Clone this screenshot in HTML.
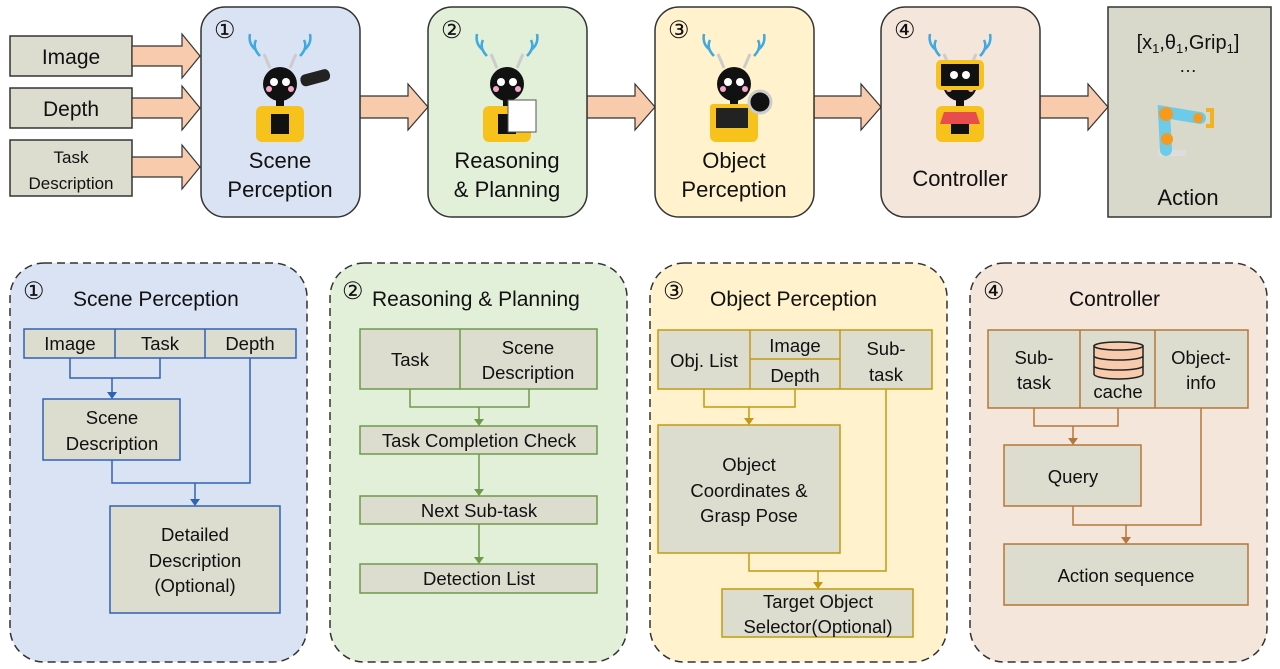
<!DOCTYPE html>
<html><head><meta charset="utf-8"><style>
html,body{margin:0;padding:0;background:#fff}
svg{display:block}
text{font-family:"Liberation Sans",sans-serif;fill:#111}
</style></head><body>
<svg width="1280" height="669" viewBox="0 0 1280 669" xmlns="http://www.w3.org/2000/svg">
<defs>
<g id="robot">
  <path d="M-20,-42 q-8,-8 -4,-16 M-24,-48 q-8,-6 -6,-16" stroke="#3fa9e0" stroke-width="2.5" fill="none"/>
  <path d="M20,-42 q8,-8 4,-16 M24,-48 q8,-6 6,-16" stroke="#3fa9e0" stroke-width="2.5" fill="none"/>
  <line x1="-10" y1="-30" x2="-16" y2="-44" stroke="#ccc" stroke-width="3"/>
  <line x1="10" y1="-30" x2="16" y2="-44" stroke="#ccc" stroke-width="3"/>
  <circle cx="0" cy="-14" r="17" fill="#111"/>
  <circle cx="-6" cy="-16" r="4" fill="#fff"/><circle cx="6" cy="-16" r="4" fill="#fff"/>
  <circle cx="-11" cy="-9" r="3" fill="#f6a8c8"/><circle cx="11" cy="-9" r="3" fill="#f6a8c8"/>
  <rect x="-4" y="2" width="8" height="6" fill="#111"/>
  <rect x="-24" y="8" width="48" height="36" rx="6" fill="#f8c21c"/>
  <rect x="-9" y="16" width="18" height="20" fill="#111"/>
</g>
</defs>

<!-- top inputs -->
<g stroke="#333" stroke-width="1.5" fill="#dcdccf">
  <rect x="10" y="36" width="122" height="40"/>
  <rect x="10" y="88" width="122" height="40"/>
  <rect x="10" y="140" width="122" height="56"/>
</g>
<text x="71" y="64" font-size="21" text-anchor="middle">Image</text>
<text x="71" y="116" font-size="21" text-anchor="middle">Depth</text>
<text x="71" y="163" font-size="17" text-anchor="middle">Task</text>
<text x="71" y="189" font-size="17" text-anchor="middle">Description</text>

<!-- arrows -->
<g fill="#f8cbad" stroke="#333" stroke-width="1.2">
  <path d="M132,46 H182 V34 L200,56 L182,78 V66 H132 Z"/>
  <path d="M132,98 H182 V86 L200,108 L182,130 V118 H132 Z"/>
  <path d="M132,157 H182 V145 L200,167 L182,189 V177 H132 Z"/>
  <path d="M360,96 H408 V84 L428,107 L408,130 V118 H360 Z"/>
  <path d="M587,96 H635 V84 L655,107 L635,130 V118 H587 Z"/>
  <path d="M814,96 H861 V84 L881,107 L861,130 V118 H814 Z"/>
  <path d="M1040,96 H1088 V84 L1108,107 L1088,130 V118 H1040 Z"/>
</g>

<!-- top boxes -->
<g stroke="#333" stroke-width="1.5">
  <rect x="201" y="7" width="159" height="210" rx="24" fill="#dae3f3"/>
  <rect x="428" y="7" width="159" height="210" rx="24" fill="#e2efd9"/>
  <rect x="655" y="7" width="159" height="210" rx="24" fill="#fff2cc"/>
  <rect x="881" y="7" width="159" height="210" rx="24" fill="#f4e6da"/>
  <rect x="1108" y="7" width="163" height="210" fill="#d9d9cb"/>
</g>
<g font-size="24">
  <text x="214" y="38">①</text><text x="441" y="38">②</text><text x="668" y="38">③</text><text x="894" y="38">④</text>
</g>
<use href="#robot" x="280" y="98"/>
<rect x="300" y="72" width="30" height="12" rx="5" fill="#222" transform="rotate(-15 314 77)"/>
<use href="#robot" x="507" y="98"/>
<rect x="508" y="100" width="28" height="32" fill="#fff" stroke="#555"/>
<use href="#robot" x="734" y="98"/>
<rect x="710" y="104" width="44" height="30" rx="3" fill="#f8c21c"/><rect x="716" y="108" width="32" height="20" fill="#222"/>
<circle cx="760" cy="102" r="11" fill="#111" stroke="#ccc" stroke-width="3"/>
<use href="#robot" x="960" y="98"/>
<rect x="936" y="60" width="48" height="30" rx="5" fill="#f8c21c"/><rect x="941" y="64" width="38" height="22" fill="#111"/>
<circle cx="954" cy="75" r="4" fill="#fff"/><circle cx="966" cy="75" r="4" fill="#fff"/>
<path d="M944,112 h32 l4,12 h-40 z" fill="#e84c4c"/>

<g font-size="22" text-anchor="middle">
  <text x="280" y="168">Scene</text><text x="280" y="197">Perception</text>
  <text x="507" y="168">Reasoning</text><text x="507" y="197">&amp; Planning</text>
  <text x="734" y="168">Object</text><text x="734" y="197">Perception</text>
  <text x="960" y="186">Controller</text>
  <text x="1188" y="205">Action</text>
</g>
<text x="1188" y="49" font-size="20" text-anchor="middle">[x<tspan font-size="13" dy="4">1</tspan><tspan dy="-4">,θ</tspan><tspan font-size="13" dy="4">1</tspan><tspan dy="-4">,Grip</tspan><tspan font-size="13" dy="4">1</tspan><tspan dy="-4">]</tspan></text>
<text x="1188" y="72" font-size="18" text-anchor="middle">…</text>
<!-- robot arm -->
<rect x="1158" y="150" width="28" height="6" fill="#ddd"/>
<path d="M1166,150 L1164,112 L1200,118" stroke="#6ccbe8" stroke-width="12" fill="none" stroke-linecap="round"/>
<circle cx="1166" cy="114" r="7" fill="#f49a1f"/><circle cx="1167" cy="139" r="6" fill="#f49a1f"/><circle cx="1198" cy="118" r="5" fill="#f49a1f"/>
<path d="M1206,110 h8 M1206,126 h8 M1212,108 v20" stroke="#f3b31e" stroke-width="4" fill="none"/>

<!-- bottom panels -->
<g stroke="#333" stroke-width="1.5" stroke-dasharray="8,5">
  <rect x="10" y="263" width="297" height="399" rx="34" fill="#dae3f3"/>
  <rect x="330" y="263" width="297" height="399" rx="34" fill="#e2efd9"/>
  <rect x="650" y="263" width="297" height="399" rx="34" fill="#fff2cc"/>
  <rect x="970" y="263" width="297" height="399" rx="34" fill="#f4e6da"/>
</g>
<g font-size="24"><text x="23" y="299">①</text><text x="342" y="299">②</text><text x="663" y="299">③</text><text x="983" y="299">④</text></g>
<g font-size="21">
  <text x="73" y="306">Scene Perception</text>
  <text x="372" y="306">Reasoning &amp; Planning</text>
  <text x="710" y="306">Object Perception</text>
  <text x="1069" y="306">Controller</text>
</g>

<!-- panel 1 -->
<g fill="#dcdccf" stroke="#2f62b5" stroke-width="1.5">
  <rect x="24" y="329" width="272" height="29"/>
  <line x1="115" y1="329" x2="115" y2="358"/><line x1="205" y1="329" x2="205" y2="358"/>
  <rect x="43" y="399" width="137" height="61"/>
  <rect x="110" y="506" width="170" height="107"/>
</g>
<g fill="none" stroke="#2f62b5" stroke-width="1.5">
  <path d="M70,358 V378 H160 V358 M112,378 V393"/>
  <path d="M250,358 V483 H112 V460 M195,483 V500"/>
</g>
<g fill="#2f62b5"><path d="M107,392 L117,392 L112,399 Z"/><path d="M190,499 L200,499 L195,506 Z"/></g>
<g font-size="18.5" text-anchor="middle">
  <text x="70" y="350">Image</text><text x="160" y="350">Task</text><text x="250" y="350">Depth</text>
  <text x="112" y="424">Scene</text><text x="112" y="450">Description</text>
  <text x="195" y="541">Detailed</text><text x="195" y="567">Description</text><text x="195" y="592">(Optional)</text>
</g>

<!-- panel 2 -->
<g fill="#dcdccf" stroke="#6e9a4a" stroke-width="1.5">
  <rect x="360" y="329" width="237" height="60"/><line x1="460" y1="329" x2="460" y2="389"/>
  <rect x="360" y="426" width="237" height="28"/>
  <rect x="360" y="496" width="237" height="28"/>
  <rect x="360" y="564" width="237" height="29"/>
</g>
<g fill="none" stroke="#6e9a4a" stroke-width="1.5">
  <path d="M410,389 V407 H529 V389 M479,407 V420 M479,454 V490 M479,524 V558"/>
</g>
<g fill="#6e9a4a"><path d="M474,419 L484,419 L479,426 Z"/><path d="M474,489 L484,489 L479,496 Z"/><path d="M474,557 L484,557 L479,564 Z"/></g>
<g font-size="18.5" text-anchor="middle">
  <text x="410" y="366">Task</text><text x="528" y="354">Scene</text><text x="528" y="379">Description</text>
  <text x="479" y="447">Task Completion Check</text>
  <text x="479" y="517">Next Sub-task</text>
  <text x="479" y="585">Detection List</text>
</g>

<!-- panel 3 -->
<g fill="#dcdccf" stroke="#c49a12" stroke-width="1.5">
  <rect x="658" y="330" width="274" height="59"/>
  <line x1="750" y1="330" x2="750" y2="389"/><line x1="840" y1="330" x2="840" y2="389"/><line x1="750" y1="359" x2="840" y2="359"/>
  <rect x="658" y="425" width="182" height="128"/>
  <rect x="722" y="589" width="191" height="48"/>
</g>
<g fill="none" stroke="#c49a12" stroke-width="1.5">
  <path d="M704,389 V407 H795 V389 M749,407 V419"/>
  <path d="M886,389 V571 H749 V553 M818,571 V583"/>
</g>
<g fill="#c49a12"><path d="M744,418 L754,418 L749,425 Z"/><path d="M813,582 L823,582 L818,589 Z"/></g>
<g font-size="18.5" text-anchor="middle">
  <text x="704" y="367">Obj. List</text><text x="795" y="352">Image</text><text x="795" y="382">Depth</text>
  <text x="886" y="355">Sub-</text><text x="886" y="381">task</text>
  <text x="749" y="471">Object</text><text x="749" y="497">Coordinates &amp;</text><text x="749" y="522">Grasp Pose</text>
  <text x="818" y="608">Target Object</text><text x="818" y="633">Selector(Optional)</text>
</g>

<!-- panel 4 -->
<g fill="#dcdccf" stroke="#b5773a" stroke-width="1.5">
  <rect x="988" y="330" width="260" height="78"/>
  <line x1="1080" y1="330" x2="1080" y2="408"/><line x1="1155" y1="330" x2="1155" y2="408"/>
  <rect x="1004" y="445" width="137" height="61"/>
  <rect x="1004" y="544" width="244" height="61"/>
</g>
<g stroke="#222" stroke-width="1.5" fill="#f8cbad">
  <path d="M1094,346 V374 a24.5,5 0 0 0 49,0 V346 Z"/>
  <ellipse cx="1118.5" cy="346" rx="24.5" ry="4"/>
  <path d="M1094,356 a24.5,4 0 0 0 49,0 M1094,366 a24.5,4 0 0 0 49,0" fill="none"/>
</g>
<g fill="none" stroke="#b5773a" stroke-width="1.5">
  <path d="M1034,408 V426 H1118 V408 M1073,426 V439"/>
  <path d="M1201,408 V525 H1073 V506 M1126,525 V538"/>
</g>
<g fill="#b5773a"><path d="M1068,438 L1078,438 L1073,445 Z"/><path d="M1121,537 L1131,537 L1126,544 Z"/></g>
<g font-size="18.5" text-anchor="middle">
  <text x="1034" y="364">Sub-</text><text x="1034" y="389">task</text>
  <text x="1118" y="398">cache</text>
  <text x="1201" y="364">Object-</text><text x="1201" y="389">info</text>
  <text x="1073" y="483">Query</text>
  <text x="1126" y="582">Action sequence</text>
</g>
</svg>
</body></html>
